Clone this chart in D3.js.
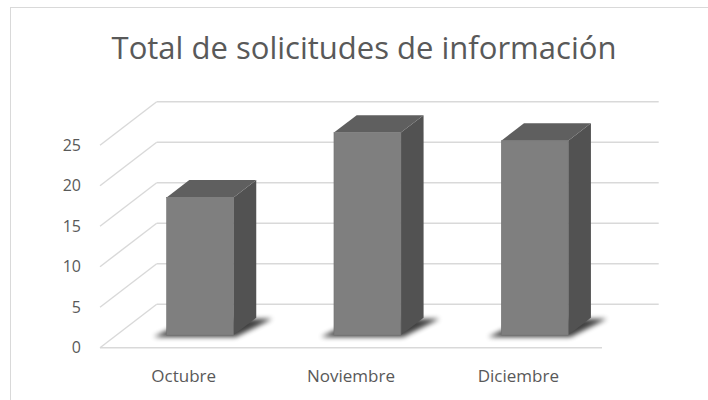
<!DOCTYPE html>
<html>
<head>
<meta charset="utf-8">
<script src="https://cdn.jsdelivr.net/npm/d3@7"></script>
<style>
  html, body { margin: 0; padding: 0; background: #fff; }
  svg { display: block; }
  text { font-family: "Open Sans", sans-serif; fill: #595959; }
</style>
</head>
<body>
<svg id="chart" width="708" height="400"></svg>
<script>
// ---- data ----
const categories = ["Octubre", "Noviembre", "Diciembre"];
const values = [17, 25, 24];
const yTicks = [0, 5, 10, 15, 20, 25];
const title = "Total de solicitudes de información";

// ---- layout ----
const W = 708, H = 400;
const floorY = 347.7;          // front floor line
const xLeft = 100, xRight = 602;
const depthX = 56.7, depthY = 43.4; // full depth offset
const barFront = 0.29, barBack = 0.69; // depth fractions of bars

const svg = d3.select("#chart");

// border
svg.append("rect")
  .attr("x", 10.5).attr("y", 7.5)
  .attr("width", W + 20).attr("height", H + 20)
  .attr("fill", "none").attr("stroke", "#d9d9d9").attr("stroke-width", 1);

const x = d3.scaleBand().domain(categories).range([xLeft, xRight])
  .paddingInner(0.6).paddingOuter(0.3);
const h = d3.scaleLinear().domain([0, 25]).range([0, 202.5]);

const defs = svg.append("defs");
defs.append("filter").attr("id", "blur")
  .attr("x", "-50%").attr("y", "-50%").attr("width", "200%").attr("height", "200%")
  .append("feGaussianBlur").attr("stdDeviation", 2.6);

// gridlines
const grid = svg.append("g").attr("stroke", "#d9d9d9").attr("stroke-width", 1.4).attr("fill", "none");
yTicks.forEach(t => {
  const yf = floorY - h(t);
  grid.append("line")
    .attr("x1", xLeft).attr("y1", yf)
    .attr("x2", xLeft + depthX).attr("y2", yf - depthY);
  grid.append("line")
    .attr("x1", xLeft + depthX).attr("y1", yf - depthY)
    .attr("x2", xRight + depthX).attr("y2", yf - depthY);
});
grid.append("line")
  .attr("x1", xLeft).attr("y1", floorY)
  .attr("x2", xRight).attr("y2", floorY);

// y tick labels
svg.append("g").selectAll("text").data(yTicks).join("text")
  .attr("x", 81).attr("y", d => floorY - h(d))
  .attr("dy", "0.36em")
  .attr("text-anchor", "end")
  .attr("font-size", 16)
  .text(d => d);

// category labels
svg.append("g").selectAll("text").data(categories).join("text")
  .attr("x", d => x(d) + x.bandwidth() / 2).attr("y", 381.5)
  .attr("text-anchor", "middle")
  .attr("font-size", 17)
  .text(d => d);

// bars
const bw = x.bandwidth();
const fx = depthX * barFront, fy = depthY * barFront;
const bx = depthX * (barBack - barFront), by = depthY * (barBack - barFront);
const poly = pts => pts.map(p => p.join(",")).join(" ");

const bars = svg.append("g").selectAll("g").data(categories.map((c, i) => ({c, v: values[i]}))).join("g");

bars.each(function(d) {
  const g = d3.select(this);
  const x0 = x(d.c) + fx, x1 = x0 + bw;
  const yb = floorY - fy;
  const yt = yb - h(d.v);
  // shadow
  g.append("polygon")
    .attr("points", poly([[x0 - 13, yb + 2], [x1 + 2, yb + 2], [x1 + bx + 16, yb - by + 1], [x0 + bx, yb - by + 2]]))
    .attr("fill", "#000").attr("opacity", 0.75).attr("filter", "url(#blur)");
  // side
  g.append("polygon")
    .attr("points", poly([[x1, yb], [x1 + bx, yb - by], [x1 + bx, yt - by], [x1, yt]]))
    .attr("fill", "#525252");
  // top
  g.append("polygon")
    .attr("points", poly([[x0, yt], [x1, yt], [x1 + bx, yt - by], [x0 + bx, yt - by]]))
    .attr("fill", "#5f5f5f");
  // front
  g.append("rect")
    .attr("x", x0).attr("y", yt).attr("width", bw).attr("height", yb - yt)
    .attr("fill", "#7f7f7f").attr("stroke", "#737373").attr("stroke-width", 0.6);
});

// title
const t = svg.append("text")
  .attr("x", 364).attr("y", 59.3)
  .attr("text-anchor", "middle")
  .attr("font-size", 30)
  .text(title);
const len = t.node().getComputedTextLength();
t.attr("font-size", 30 * 505 / len);
</script>
</body>
</html>
